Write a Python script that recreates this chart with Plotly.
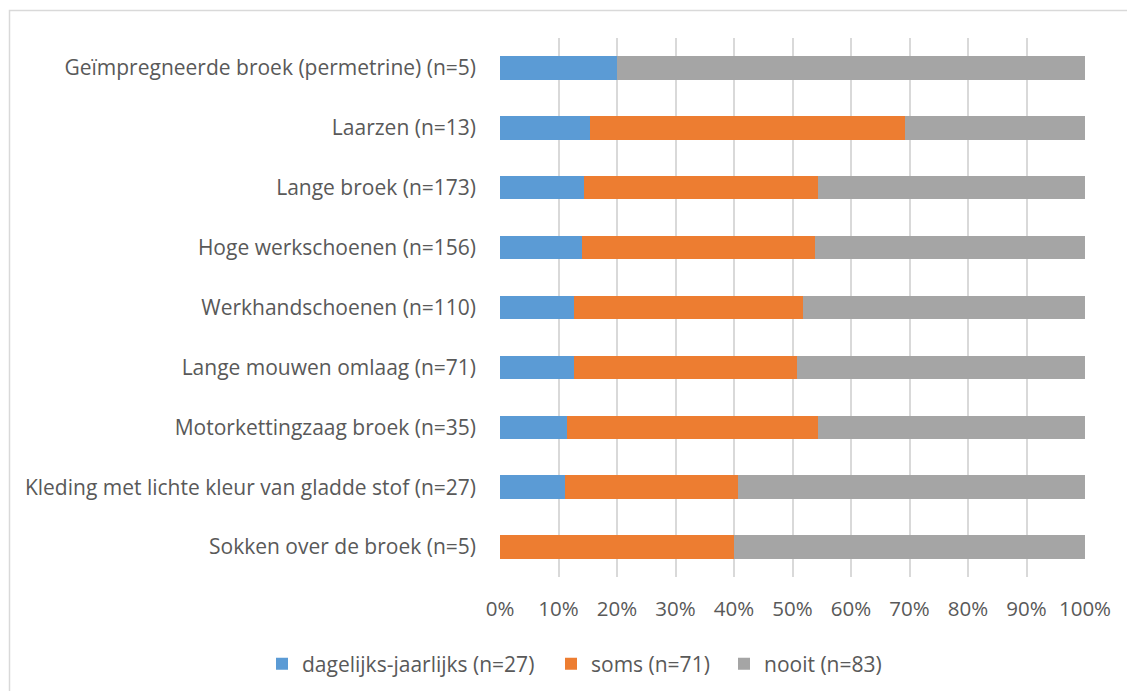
import plotly.graph_objects as go

categories = [
    "Geïmpregneerde broek (permetrine) (n=5)",
    "Laarzen (n=13)",
    "Lange broek (n=173)",
    "Hoge werkschoenen (n=156)",
    "Werkhandschoenen (n=110)",
    "Lange mouwen omlaag (n=71)",
    "Motorkettingzaag broek (n=35)",
    "Kleding met lichte kleur van gladde stof (n=27)",
    "Sokken over de broek (n=5)",
]
dagelijks = [20.0, 15.4, 14.4, 14.1, 12.7, 12.7, 11.4, 11.1, 0.0]
soms = [0.0, 53.8, 39.9, 39.7, 39.1, 38.0, 42.9, 29.6, 40.0]
nooit = [80.0, 30.8, 45.7, 46.2, 48.2, 49.3, 45.7, 59.3, 60.0]
series_names = ["dagelijks-jaarlijks (n=27)", "soms (n=71)", "nooit (n=83)"]
colors = ["#5B9BD5", "#ED7D31", "#A5A5A5"]
tick_vals = [0, 10, 20, 30, 40, 50, 60, 70, 80, 90, 100]
tick_text = ["0%", "10%", "20%", "30%", "40%", "50%", "60%", "70%", "80%", "90%", "100%"]

OFF = 8  # page body margin
W, H = 1135 - OFF, 691 - OFF
L, R, T, B = 500 - OFF, 50, 38 - OFF, 691 - 577
font_family = "'Open Sans', sans-serif"
text_color = "#595959"

pw = W - L - R
ph = H - T - B
def px_x(p):
    return (p - OFF - L) / pw
def px_y(p):
    return (H - B - (p - OFF)) / ph

legend_keys = ["legend", "legend2", "legend3"]
legend_x_page = [262, 551, 724]

fig = go.Figure()
for name, vals, col, lk in zip(series_names, [dagelijks, soms, nooit], colors, legend_keys):
    fig.add_trace(go.Bar(
        y=categories, x=vals, name=name, orientation="h",
        marker=dict(color=col, line=dict(width=0)),
        legend=lk,
    ))

legend_common = dict(
    orientation="h", xanchor="left", yanchor="middle",
    y=px_y(664), font=dict(size=21, color=text_color),
    itemwidth=30, bgcolor="rgba(0,0,0,0)", borderwidth=0,
)

fig.update_layout(
    width=W, height=H,
    margin=dict(l=L, r=R, t=T, b=B, pad=0, autoexpand=False),
    barmode="stack",
    bargap=0.61,
    plot_bgcolor="white",
    paper_bgcolor="white",
    font=dict(family=font_family, size=21, color=text_color),
    xaxis=dict(
        range=[0, 100], tickvals=tick_vals, ticktext=tick_text,
        showgrid=True, gridcolor="#D9D9D9", gridwidth=1.5,
        zeroline=False, showline=False, ticks="",
        tickfont=dict(size=20.5, color=text_color),
        ticklabelstandoff=17,
        fixedrange=True, automargin=False,
    ),
    yaxis=dict(
        autorange="reversed", showgrid=False, zeroline=False,
        ticks="", ticklabelstandoff=23, automargin=False,
        tickfont=dict(size=21, color=text_color),
    ),
    legend=dict(x=px_x(legend_x_page[0]), **legend_common),
    legend2=dict(x=px_x(legend_x_page[1]), **legend_common),
    legend3=dict(x=px_x(legend_x_page[2]), **legend_common),
    showlegend=True,
    shapes=[dict(
        type="rect", xref="paper", yref="paper",
        x0=px_x(9.5), x1=px_x(1135 + 30), y0=px_y(691 + 30), y1=px_y(10.5),
        line=dict(color="#D9D9D9", width=1.5), fillcolor="rgba(0,0,0,0)",
        layer="below",
    )],
)

fig.write_html("out.html")
